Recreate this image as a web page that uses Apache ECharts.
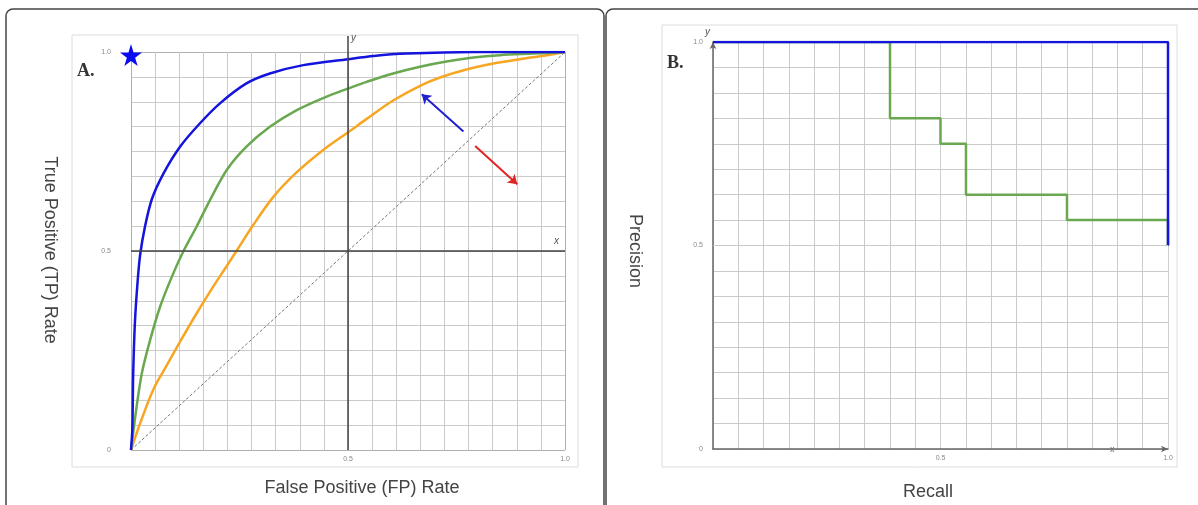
<!DOCTYPE html>
<html>
<head>
<meta charset="utf-8">
<script src="https://cdn.jsdelivr.net/npm/echarts@6/dist/echarts.min.js"></script>
<style>
  body { margin: 0; background: #fff; }
  #main { width: 1198px; height: 505px; }
</style>
</head>
<body>
<div id="main"></div>
<script>
// ROC curves, panel A: [FP rate, TP rate]
var rocBlue = [[0, 0], [0.003, 0.05], [0.004, 0.11], [0.005, 0.19], [0.009, 0.32], [0.015, 0.42],
    [0.021, 0.49], [0.032, 0.56], [0.048, 0.63], [0.075, 0.695], [0.113, 0.762], [0.159, 0.821],
    [0.205, 0.871], [0.266, 0.921], [0.32, 0.946], [0.397, 0.967], [0.5, 0.982], [0.559, 0.99],
    [0.635, 0.996], [0.789, 1.0], [1, 1]];
var rocGreen = [[0, 0], [0.013, 0.109], [0.025, 0.193], [0.044, 0.276], [0.067, 0.36], [0.094, 0.435],
    [0.121, 0.5], [0.151, 0.561], [0.182, 0.628], [0.221, 0.704], [0.266, 0.762], [0.32, 0.812],
    [0.382, 0.854], [0.451, 0.888], [0.512, 0.913], [0.543, 0.925], [0.604, 0.946], [0.666, 0.963],
    [0.727, 0.976], [0.789, 0.986], [0.85, 0.992], [0.927, 0.996], [1, 1]];
var rocOrange = [[0, 0], [0.021, 0.067], [0.051, 0.151], [0.082, 0.212], [0.113, 0.272], [0.151, 0.343],
    [0.189, 0.41], [0.221, 0.463], [0.243, 0.5], [0.282, 0.566], [0.328, 0.636], [0.382, 0.698],
    [0.443, 0.754], [0.505, 0.802], [0.543, 0.832], [0.604, 0.878], [0.666, 0.915], [0.712, 0.936],
    [0.773, 0.956], [0.835, 0.971], [0.896, 0.982], [0.958, 0.992], [1, 1]];
var rocChance = [[0, 0], [1, 1]];
var perfectPoint = [[0, 1]];
// arrows: [tail, head]
var arrowBetter = [[0.766, 0.8], [0.670, 0.894]];
var arrowWorse = [[0.793, 0.764], [0.890, 0.668]];

// PR curves, panel B: [recall, precision], drawn as steps
var prBlue = [[0, 1], [1, 0.5]];
var prGreen = [[0, 1], [0.389, 0.8125], [0.5, 0.75], [0.556, 0.625], [0.778, 0.5625], [1, 0.5]];

var tickFont = { fontSize: 7, color: '#888', fontFamily: 'Liberation Sans' };
var titleFont = 'normal 18px "Liberation Sans"';
var starPath = 'path://M50,0 L61,35 L98,35 L68,57 L79,91 L50,70 L21,91 L32,57 L2,35 L39,35 Z';

function fmtX(v) { return v === 0 ? '' : v.toFixed(1); }
function fmtY(v) { return v === 0 ? '0' : v.toFixed(1); }

function makeAxis(idx, splits, fmt, margin, showLine, lineColor) {
    return {
        type: 'value', gridIndex: idx, min: 0, max: 1, interval: 0.5,
        axisLine: { show: showLine, lineStyle: { color: '#666', width: 1.5 },
            symbol: ['none', 'arrow'], symbolSize: [5, 7] },
        axisTick: { show: false },
        axisLabel: Object.assign({ formatter: fmt, margin: margin }, tickFont),
        splitLine: { show: true, lineStyle: { color: lineColor, width: 1 } },
        minorTick: { show: false, splitNumber: splits },
        minorSplitLine: { show: true, lineStyle: { color: '#cacaca', width: 1 } }
    };
}

var chart = echarts.init(document.getElementById('main'));
var option = {
    animation: false,
    grid: [
        { left: 131, top: 52, width: 434, height: 398 },
        { left: 713, top: 42, width: 455, height: 407 }
    ],
    xAxis: [
        makeAxis(0, 9, fmtX, 6, false, '#b0b0b0'),
        makeAxis(1, 9, fmtX, 6, true, '#cfcfcf')
    ],
    yAxis: [
        makeAxis(0, 8, fmtY, 20, false, '#b0b0b0'),
        makeAxis(1, 8, fmtY, 10, true, '#cfcfcf')
    ],
    graphic: [
        { type: 'rect', shape: { x: 6, y: 9, width: 598, height: 530, r: 7 },
          style: { fill: 'none', stroke: '#444', lineWidth: 1.5 }, z: -1 },
        { type: 'rect', shape: { x: 606, y: 9, width: 620, height: 530, r: 7 },
          style: { fill: 'none', stroke: '#444', lineWidth: 1.5 }, z: -1 },
        { type: 'rect', shape: { x: 72, y: 35, width: 506, height: 432 },
          style: { fill: 'none', stroke: '#dcdcdc', lineWidth: 1 }, z: -1 },
        { type: 'rect', shape: { x: 662, y: 25, width: 515, height: 442 },
          style: { fill: 'none', stroke: '#dcdcdc', lineWidth: 1 }, z: -1 },
        // upper stub of the centre y axis in panel A
        { type: 'line', shape: { x1: 348, y1: 36, x2: 348, y2: 52 },
          style: { stroke: '#444', lineWidth: 1.5 } },
        { type: 'text', left: 77, top: 62, style: { text: 'A.', font: 'bold 18px "Liberation Serif"', fill: '#333' } },
        { type: 'text', left: 667, top: 54, style: { text: 'B.', font: 'bold 18px "Liberation Serif"', fill: '#333' } },
        { type: 'text', left: 351, top: 33, style: { text: 'y', font: 'italic 10px "Liberation Sans"', fill: '#555' } },
        { type: 'text', left: 554, top: 236, style: { text: 'x', font: 'italic 10px "Liberation Sans"', fill: '#555' } },
        { type: 'text', left: 705, top: 27, style: { text: 'y', font: 'italic 10px "Liberation Sans"', fill: '#555' } },
        { type: 'text', left: 1110, top: 445, style: { text: 'x', font: 'normal 9px "Liberation Sans"', fill: '#666' } },
        { type: 'text', x: 50, y: 250, rotation: -Math.PI / 2,
          style: { text: 'True Positive (TP) Rate', font: titleFont, fill: '#444', align: 'center', verticalAlign: 'middle' } },
        { type: 'text', x: 362, y: 488,
          style: { text: 'False Positive (FP) Rate', font: titleFont, fill: '#444', align: 'center', verticalAlign: 'middle' } },
        { type: 'text', x: 635, y: 251, rotation: -Math.PI / 2,
          style: { text: 'Precision', font: titleFont, fill: '#444', align: 'center', verticalAlign: 'middle' } },
        { type: 'text', x: 928, y: 492,
          style: { text: 'Recall', font: titleFont, fill: '#444', align: 'center', verticalAlign: 'middle' } }
    ],
    series: [
        {   // chance diagonal + the two centre axes
            type: 'line', xAxisIndex: 0, yAxisIndex: 0, data: rocChance, symbol: 'none',
            lineStyle: { color: '#777', width: 1, type: [3, 2] },
            markLine: {
                silent: true, symbol: 'none', label: { show: false },
                lineStyle: { color: '#444', width: 1.5, type: 'solid' },
                data: [{ yAxis: 0.5 }, { xAxis: 0.5 }]
            }
        },
        { type: 'line', xAxisIndex: 0, yAxisIndex: 0, data: rocOrange, symbol: 'none',
          smooth: 0.3, lineStyle: { color: '#f6a623', width: 2.5 } },
        { type: 'line', xAxisIndex: 0, yAxisIndex: 0, data: rocGreen, symbol: 'none',
          smooth: 0.3, lineStyle: { color: '#6aa84f', width: 2.5 } },
        { type: 'line', xAxisIndex: 0, yAxisIndex: 0, data: rocBlue, symbol: 'none',
          smooth: 0.3, lineStyle: { color: '#1414dc', width: 2.5 } },
        { type: 'scatter', xAxisIndex: 0, yAxisIndex: 0, data: perfectPoint, symbol: starPath,
          symbolSize: 22, symbolOffset: [0, 3], itemStyle: { color: '#0a0af0', opacity: 1 }, clip: false },
        {
            type: 'lines', coordinateSystem: 'cartesian2d', xAxisIndex: 0, yAxisIndex: 0,
            symbol: ['none', 'arrow'], symbolSize: 9,
            data: [
                { coords: arrowBetter, lineStyle: { color: '#2020d0', width: 2, opacity: 1 } },
                { coords: arrowWorse, lineStyle: { color: '#e02424', width: 2, opacity: 1 } }
            ]
        },
        {
            type: 'line', xAxisIndex: 1, yAxisIndex: 1, data: prGreen, step: 'end', symbol: 'none',
            lineStyle: { color: '#6aa84f', width: 2.5 },
            markLine: {
                silent: true, symbol: 'none', label: { show: false },
                lineStyle: { color: '#c4c4c4', width: 1, type: 'dotted' },
                data: [{ yAxis: 0.5 }]
            }
        },
        { type: 'line', xAxisIndex: 1, yAxisIndex: 1, data: prBlue, step: 'end', symbol: 'none',
          lineStyle: { color: '#1414dc', width: 2.5 } }
    ]
};
chart.setOption(option);
</script>
</body>
</html>
